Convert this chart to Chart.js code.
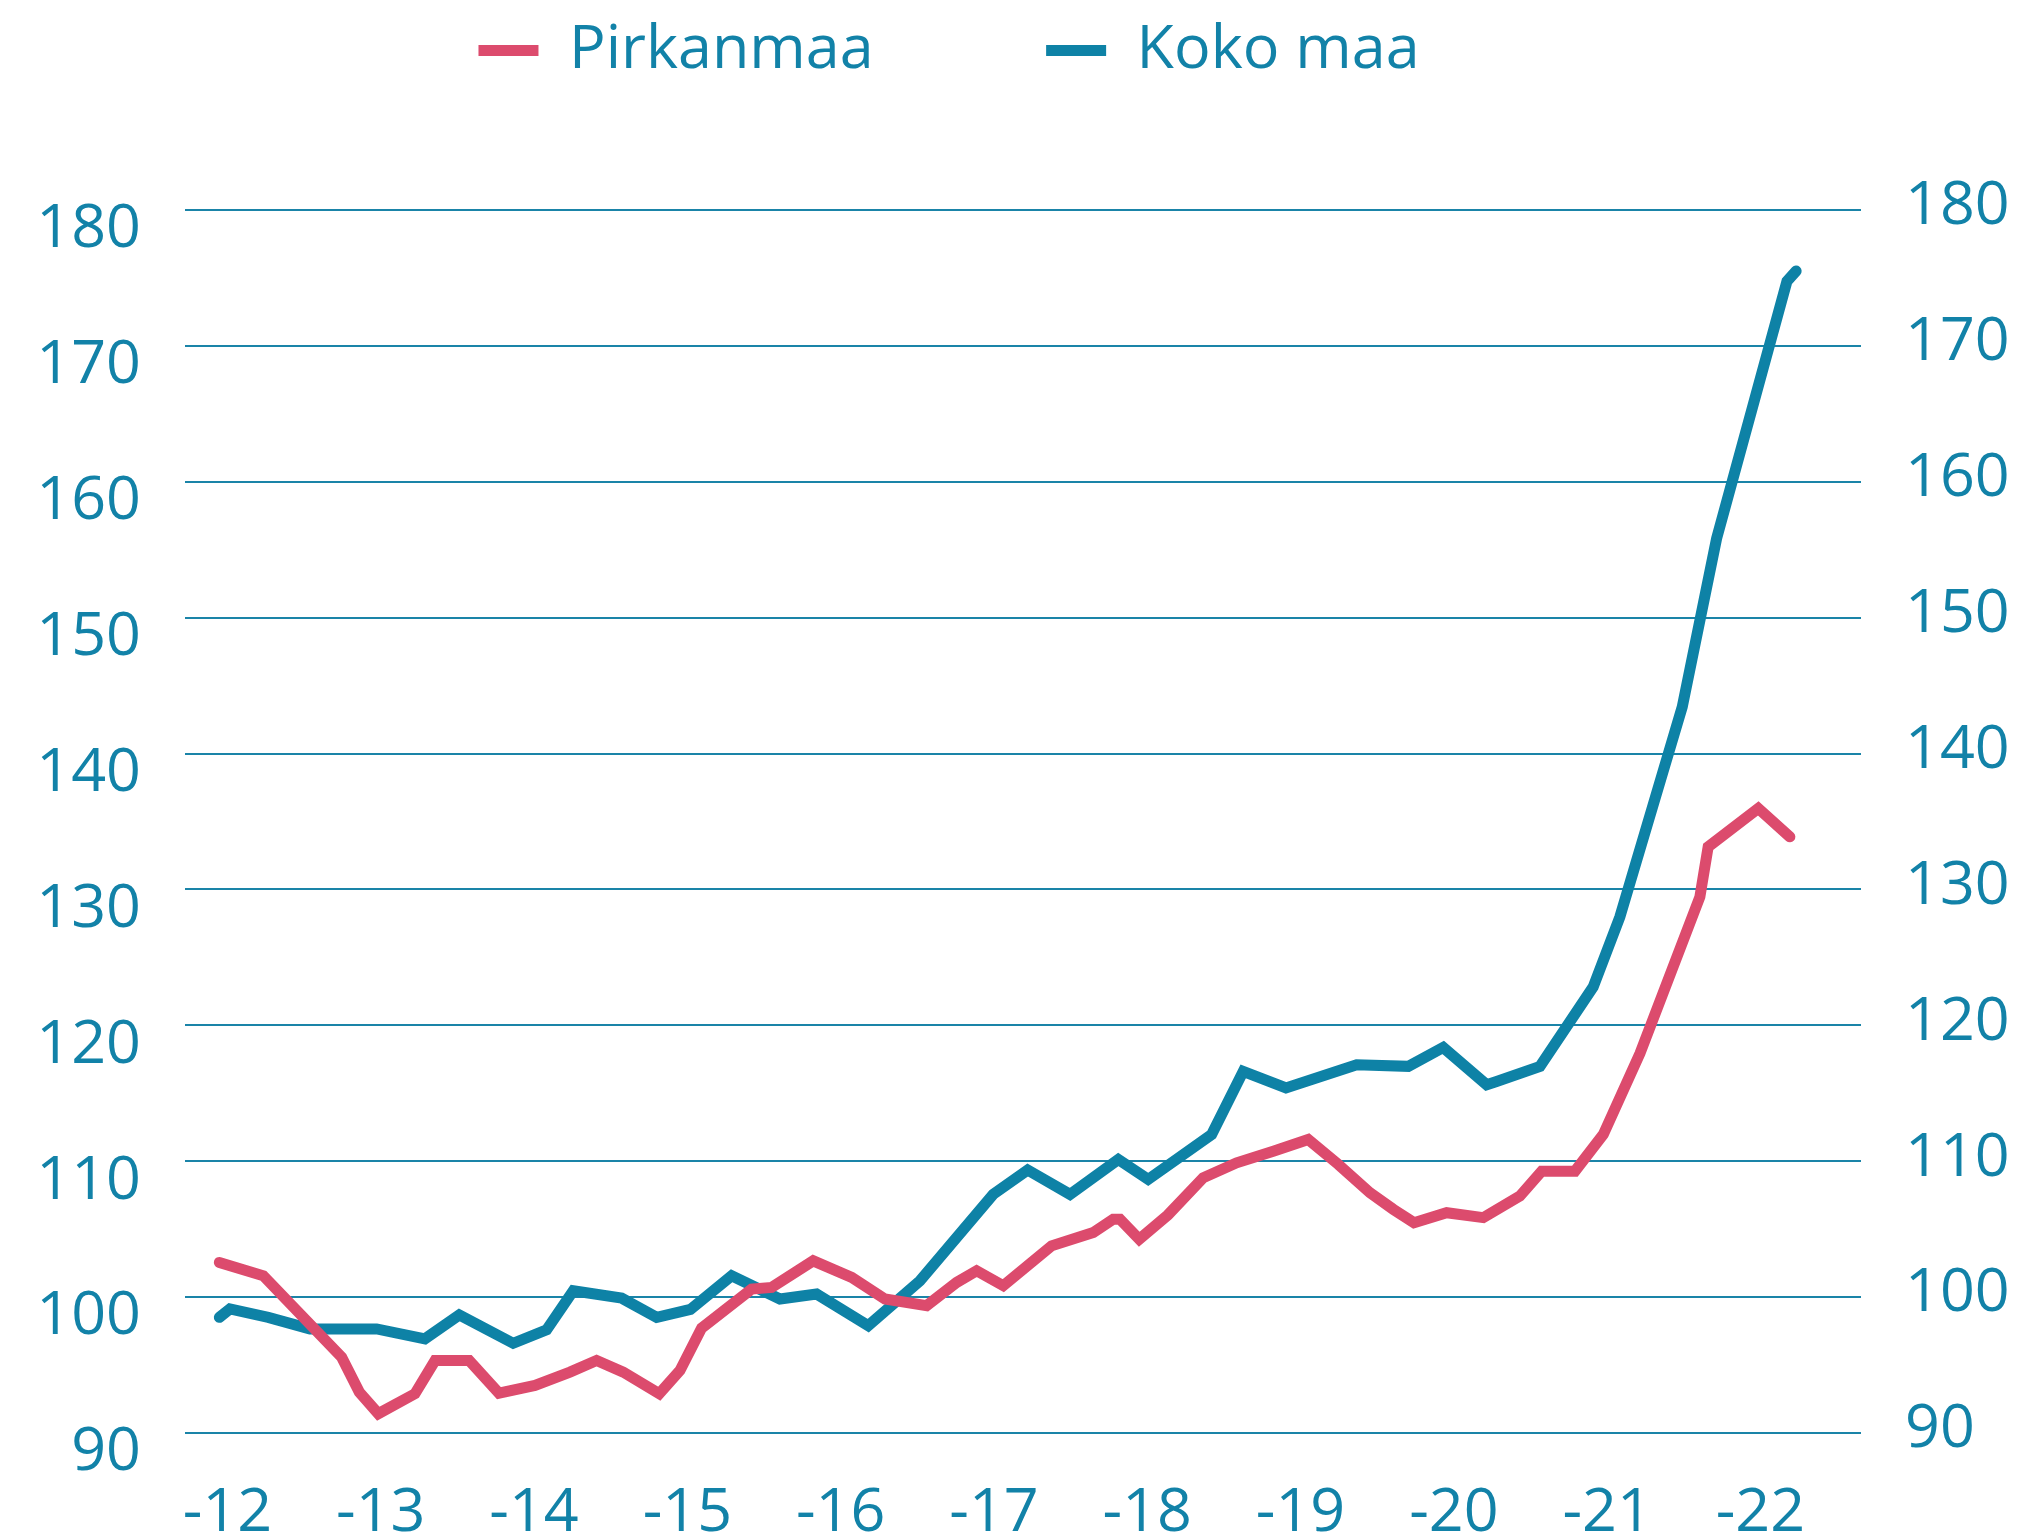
<!DOCTYPE html>
<html>
<head>
<meta charset="utf-8">
<title>Pirkanmaa ja koko maa</title>
<script src="https://cdn.jsdelivr.net/npm/chart.js@4.4.1/dist/chart.umd.min.js"></script>
<style>
  html, body { margin: 0; padding: 0; background: #fff; }
  #wrap { width: 2018px; height: 1534px; }
</style>
</head>
<body>
<div id="wrap"><canvas id="indexChart" width="2018" height="1534"></canvas></div>
<script>
// sarjojen arvot luettu kuvasta (x = vuosi desimaalina)
const seriesNames = ['Pirkanmaa', 'Koko maa'];

const pirkanmaaX = [2011.947, 2012.234, 2012.745, 2012.86, 2012.984, 2013.223, 2013.354, 2013.577, 2013.771, 2014.006,
  2014.234, 2014.408, 2014.582, 2014.817, 2014.952, 2015.093, 2015.419, 2015.55, 2015.821, 2016.072,
  2016.289, 2016.561, 2016.757, 2016.887, 2017.061, 2017.376, 2017.648, 2017.778, 2017.822, 2017.948,
  2018.135, 2018.365, 2018.583, 2018.822, 2019.05, 2019.246, 2019.453, 2019.605, 2019.74, 2019.953,
  2020.192, 2020.431, 2020.573, 2020.79, 2020.975, 2021.214, 2021.605, 2021.659, 2021.986, 2022.192];
const pirkanmaaY = [102.55, 101.57, 95.58, 93.01, 91.42, 92.89, 95.33, 95.33, 92.93, 93.5,
  94.48, 95.33, 94.48, 92.89, 94.6, 97.72, 100.59, 100.71, 102.67, 101.45,
  99.86, 99.37, 101.08, 101.94, 100.84, 103.77, 104.75, 105.73, 105.73, 104.26,
  106.05, 108.78, 109.88, 110.74, 111.6, 109.77, 107.68, 106.46, 105.48, 106.21,
  105.85, 107.44, 109.27, 109.27, 111.97, 117.93, 129.45, 133.13, 135.96, 133.87];

const kokoMaaX = [2011.947, 2012.016, 2012.266, 2012.538, 2012.973, 2013.288, 2013.512, 2013.864, 2014.082, 2014.256,
  2014.571, 2014.8, 2015.02, 2015.289, 2015.604, 2015.843, 2016.18, 2016.517, 2016.995, 2017.22,
  2017.496, 2017.811, 2018.006, 2018.42, 2018.626, 2018.905, 2019.366, 2019.703, 2019.931, 2020.214,
  2020.279, 2020.562, 2020.909, 2021.083, 2021.49, 2021.714, 2022.173, 2022.233];
const kokoMaaY = [98.51, 99.13, 98.51, 97.66, 97.66, 96.93, 98.69, 96.6, 97.59, 100.47,
  99.93, 98.51, 99.09, 101.57, 99.86, 100.23, 97.9, 101.2, 107.56, 109.35,
  107.56, 110.13, 108.66, 111.97, 116.61, 115.39, 117.1, 116.98, 118.37, 115.63,
  115.87, 116.98, 122.83, 127.98, 143.44, 155.82, 174.76, 175.51];

const tickYears = [2012, 2013, 2014, 2015, 2016, 2017, 2018, 2019, 2020, 2021, 2022];
const tickLabels = ['-12', '-13', '-14', '-15', '-16', '-17', '-18', '-19', '-20', '-21', '-22'];

const pinkColor = '#dc4b6d';
const blueColor = '#0e82a6';
const textColor = '#1282a8';
const gridColor = '#1a84a8';

const legendSpacer = '\u2003\u2003\u2002';

Chart.defaults.font.family = '"Open Sans", "Noto Sans", sans-serif';
Chart.defaults.font.size = 61;
Chart.defaults.color = textColor;

// legendan korkeus = piirtoalueen yläreuna, ja legenda hieman vasemmalle
const legendFit = {
    id: 'legendFit',
    beforeInit(chart) {
        const origFit = chart.legend.fit;
        chart.legend.fit = function() {
            origFit.call(this);
            this.height = 210;
            this.lineWidths = this.lineWidths.map(w => w + 120);
        };
    }
};

const toPoints = (xs, ys) => xs.map((x, i) => ({ x: x, y: ys[i] }));

const ctx = document.getElementById('indexChart');
new Chart(ctx, {
    type: 'line',
    data: {
        datasets: [{
            label: seriesNames[0],
            data: toPoints(pirkanmaaX, pirkanmaaY),
            borderColor: pinkColor,
            backgroundColor: pinkColor,
            borderWidth: 11,
            borderCapStyle: 'round',
            pointRadius: 0,
            tension: 0,
            fill: false
        }, {
            label: seriesNames[1],
            data: toPoints(kokoMaaX, kokoMaaY),
            borderColor: blueColor,
            backgroundColor: blueColor,
            borderWidth: 11,
            borderCapStyle: 'round',
            pointRadius: 0,
            tension: 0,
            fill: false
        }]
    },
    options: {
        responsive: false,
        devicePixelRatio: 1,
        animation: false,
        layout: { padding: 0 },
        plugins: {
            tooltip: { enabled: false },
            legend: {
                position: 'top',
                labels: {
                    boxWidth: 60,
                    boxHeight: 11,
                    padding: 20,
                    color: textColor,
                    generateLabels: chart => {
                        const items = Chart.defaults.plugins.legend.labels.generateLabels(chart);
                        items.forEach((it, i) => {
                            it.lineWidth = 0;
                            if (i < items.length - 1) it.text += legendSpacer;
                        });
                        return items;
                    }
                }
            }
        },
        scales: {
            x: {
                type: 'linear',
                min: 2011.723,
                max: 2022.656,
                grid: { display: false, drawTicks: false },
                border: { display: false },
                afterBuildTicks: s => { s.ticks = tickYears.map(v => ({ value: v })); },
                afterFit: s => { s.height = 101; },
                ticks: {
                    padding: 44,
                    maxRotation: 0,
                    callback: v => tickLabels[tickYears.indexOf(v)]
                }
            },
            y: {
                position: 'left',
                min: 90,
                max: 180,
                grid: { color: gridColor, lineWidth: 2, drawTicks: false },
                border: { display: false },
                afterFit: s => { s.width = 185; },
                ticks: { stepSize: 10, padding: 44, labelOffset: 20 }
            },
            yRight: {
                position: 'right',
                min: 90,
                max: 180,
                grid: { display: false, drawTicks: false },
                border: { display: false },
                afterFit: s => { s.width = 2018 - 1861; },
                ticks: { stepSize: 10, padding: 44, labelOffset: -3 }
            }
        }
    },
    plugins: [legendFit]
});
</script>
</body>
</html>
